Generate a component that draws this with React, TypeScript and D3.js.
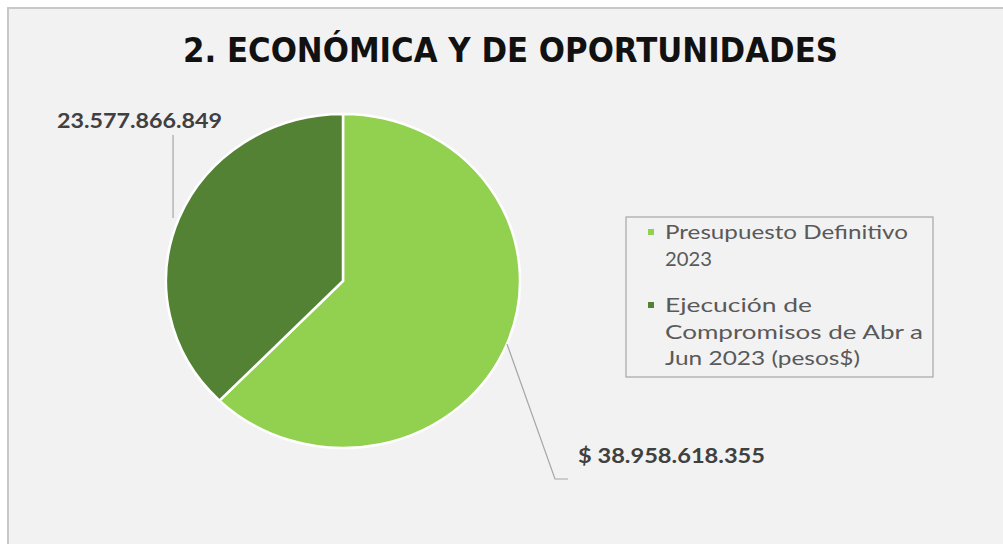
import React from "react";
import * as d3 from "d3";

const categories = ["Presupuesto Definitivo 2023", "Ejecución de Compromisos de Abr a Jun 2023 (pesos$)"];
const values = [38958618355, 23577866849];
const valueLabels = ["$ 38.958.618.355", "23.577.866.849"];
const legendLines = [["Presupuesto Definitivo", "2023"], ["Ejecución de", "Compromisos de Abr a", "Jun 2023 (pesos$)"]];
const colors = ["#92d050", "#548235"];
const title = "2. ECONÓMICA Y DE OPORTUNIDADES";

const W = 1003, H = 544;
const cx = 343, cy = 281, rx = 177, ry = 167;

export default function App() {
  const pie = d3.pie<number>().sort(null).value((d) => d)(values);
  const arc = d3.arc<d3.PieArcDatum<number>>().innerRadius(0).outerRadius(rx);
  const edge = (a: number) => [cx + rx * Math.sin(a), cy - ry * Math.cos(a)];
  const mid = pie.map((p) => (p.startAngle + p.endAngle) / 2);
  const e0 = edge(mid[0]);
  const e1 = edge(mid[1]);
  const fontTxt = "'Lato', 'Open Sans', sans-serif";
  const legendWidths = [[243, 47], [147, 258, 195]];
  return (
    <svg width={W} height={H} style={{ position: "absolute", left: 0, top: 0 }}>
      <rect x={0} y={0} width={W} height={H} fill="#ffffff" />
      <rect x={8} y={8} width={W} height={H} fill="#f2f2f2" stroke="#c8c8c8" strokeWidth={2} />
      <text x={183} y={62} fontFamily="'DejaVu Sans', sans-serif" fontWeight="bold" fontSize={33}
        fill="#111" textLength={655} lengthAdjust="spacingAndGlyphs">{title}</text>
      <g transform={`translate(${cx},${cy}) scale(1,${ry / rx})`}>
        {pie.map((p, i) => (
          <path key={i} d={arc(p) || ""} fill={colors[i]} stroke="#ffffff" strokeWidth={2.5}
            vectorEffect="non-scaling-stroke" />
        ))}
      </g>
      {/* leader lines */}
      <polyline points={`${e0[0]},${e0[1]} ${555},${479} ${568},${479}`} fill="none" stroke="#a6a6a6" strokeWidth={1.2} />
      <polyline points={`${e1[0] - 6},${e1[1]} ${e1[0] - 6},${135}`} fill="none" stroke="#a6a6a6" strokeWidth={1.2} />
      <text x={578} y={463} fontFamily={fontTxt} fontWeight="bold" fontSize={20} fill="#404040"
        textLength={187} lengthAdjust="spacingAndGlyphs">{valueLabels[0]}</text>
      <text x={57} y={128} fontFamily={fontTxt} fontWeight="bold" fontSize={20} fill="#404040"
        textLength={165} lengthAdjust="spacingAndGlyphs">{valueLabels[1]}</text>
      {/* legend */}
      <rect x={626} y={217} width={307} height={160} fill="none" stroke="#a6a6a6" strokeWidth={1.2} />
      {categories.map((c, i) => {
        const top = i === 0 ? 239 : 312;
        return (
          <g key={c}>
            <rect x={648} y={top - 10} width={6} height={6} fill={colors[i]} />
            {legendLines[i].map((ln, j) => (
              <text key={j} x={665} y={top + j * 26.5} fontFamily={fontTxt} fontSize={19} fill="#595959"
                textLength={legendWidths[i][j]} lengthAdjust="spacingAndGlyphs">{ln}</text>
            ))}
          </g>
        );
      })}
    </svg>
  );
}
